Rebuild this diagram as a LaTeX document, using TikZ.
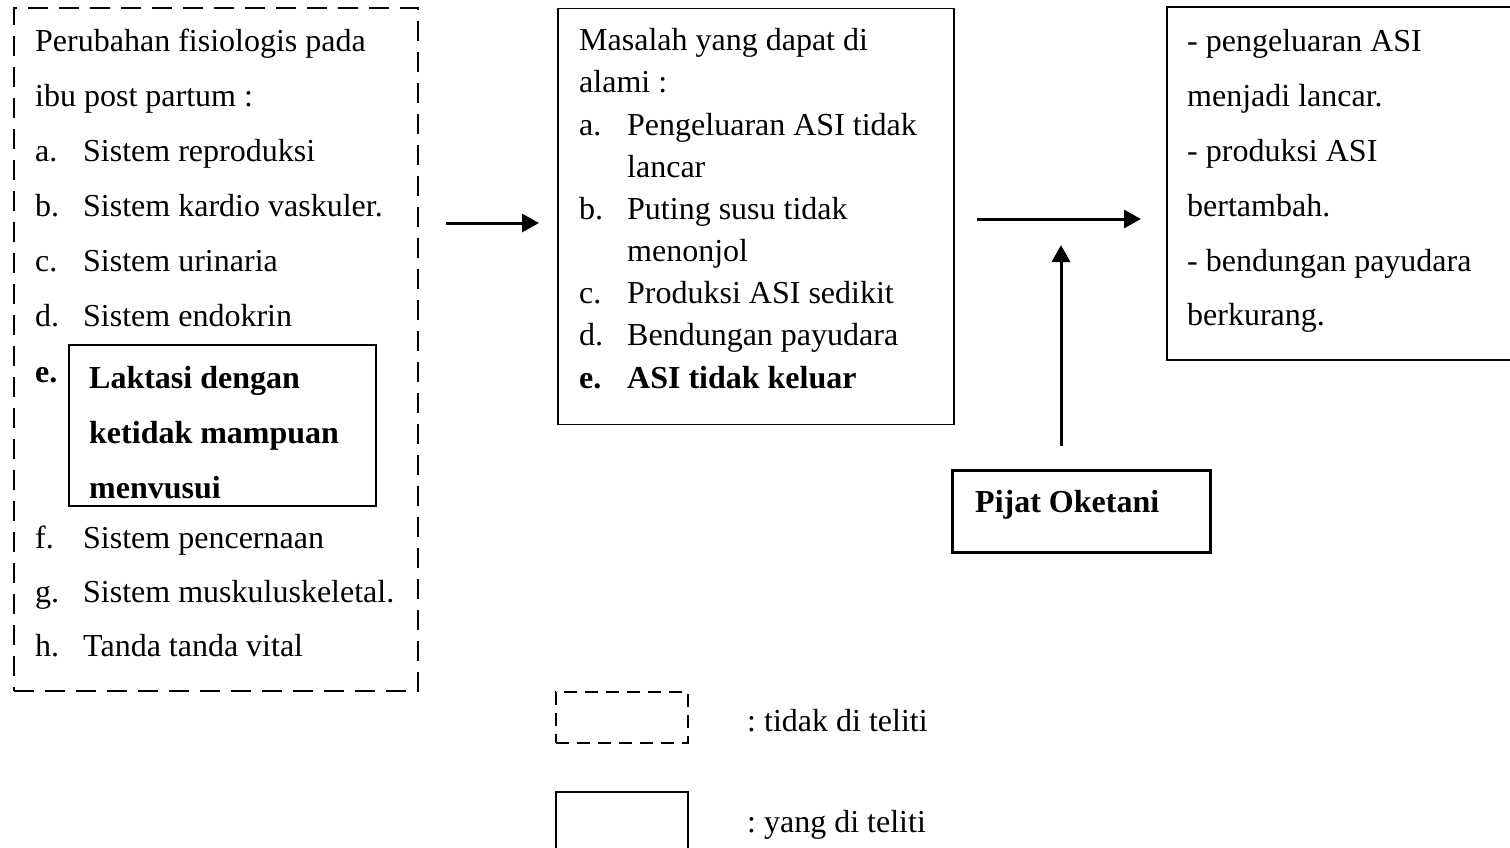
\documentclass[tikz,border=0pt]{standalone}
\usepackage{fontspec}
\setmainfont{Liberation Serif}
\usetikzlibrary{arrows.meta}
\frenchspacing
\begin{document}
\begin{tikzpicture}[x=1pt,y=-1pt,
  txt/.style={anchor=base west,inner sep=0pt,font=\fontsize{32}{38}\selectfont},
  btxt/.style={txt,font=\fontsize{32}{38}\selectfont\bfseries},
  dbox/.style={draw,line width=2.8pt,dash pattern=on 20pt off 11pt,rectangle,inner sep=0pt},
  sbox/.style={draw,line width=1.5pt,rectangle,inner sep=0pt},
  tbox/.style={draw,line width=3pt,rectangle,inner sep=0pt},
  arr/.style={line width=3pt,-{Triangle[length=17pt,width=18pt]}}]
\useasboundingbox (0,0) rectangle (1510,847);
% boxes
\node[dbox,minimum width=404pt,minimum height=683pt] (left) at (216,349.5) {};
\node[sbox,minimum width=307pt,minimum height=161pt] (lak) at (222.5,425.5) {};
\node[sbox,minimum width=396pt,minimum height=416pt] (mid) at (756,216.5) {};
\node[sbox,minimum width=346pt,minimum height=353pt] (res) at (1340,183.5) {};
\node[tbox,minimum width=258pt,minimum height=82pt] (pij) at (1081,511) {};
% left texts
\node[txt] (l1) at (35,51) {Perubahan fisiologis pada};
\node[txt] (l2) at (35,106) {ibu post partum :};
\node[txt] (la) at (35,161) {a.};
\node[txt] (lat) at (83,161) {Sistem reproduksi};
\node[txt] (lb) at (35,216) {b.};
\node[txt] (lbt) at (83,216) {Sistem kardio vaskuler.};
\node[txt] (lc) at (35,271) {c.};
\node[txt] (lct) at (83,271) {Sistem urinaria};
\node[txt] (ld) at (35,326) {d.};
\node[txt] (ldt) at (83,326) {Sistem endokrin};
\node[btxt] (le) at (35,382) {e.};
\node[btxt] (le1) at (89,388) {Laktasi dengan};
\node[btxt] (le2) at (89,443) {ketidak mampuan};
\node[btxt] (le3) at (89,498) {menvusui};
\node[txt] (lf) at (35,548) {f.};
\node[txt] (lft) at (83,548) {Sistem pencernaan};
\node[txt] (lg) at (35,602) {g.};
\node[txt] (lgt) at (83,602) {Sistem muskuluskeletal.};
\node[txt] (lh) at (35,656) {h.};
\node[txt] (lht) at (83,656) {Tanda tanda vital};
% middle texts
\node[txt] (m1) at (579,50) {Masalah yang dapat di};
\node[txt] (m2) at (579,92) {alami :};
\node[txt] (ma) at (579,135) {a.};
\node[txt] (mat) at (627,135) {Pengeluaran ASI tidak};
\node[txt] (mat2) at (627,177) {lancar};
\node[txt] (mb) at (579,219) {b.};
\node[txt] (mbt) at (627,219) {Puting susu tidak};
\node[txt] (mbt2) at (627,261) {menonjol};
\node[txt] (mc) at (579,303) {c.};
\node[txt] (mct) at (627,303) {Produksi ASI sedikit};
\node[txt] (md) at (579,345) {d.};
\node[txt] (mdt) at (627,345) {Bendungan payudara};
\node[btxt] (me) at (579,388) {e.};
\node[btxt] (met) at (627,388) {ASI tidak keluar};
% right texts
\node[txt] (r1) at (1187,51) {- pengeluaran ASI};
\node[txt] (r2) at (1187,106) {menjadi lancar.};
\node[txt] (r3) at (1187,161) {- produksi ASI};
\node[txt] (r4) at (1187,216) {bertambah.};
\node[txt] (r5) at (1187,271) {- bendungan payudara};
\node[txt] (r6) at (1187,325) {berkurang.};
% pijat
\node[btxt] (pt) at (975,512) {Pijat Oketani};
% arrows
\coordinate (a1s) at (446,223);
\coordinate (a1e) at (539,223);
\coordinate (a2s) at (977,219);
\coordinate (a2e) at (1141,219);
\coordinate (a3e) at (1061,245);
\draw[arr] (a1s) -- (a1e);
\draw[arr] (a2s) -- (a2e);
\draw[arr] (pij.north -| a3e) ++(0,-23) -- (a3e);
% legend
\node[draw,line width=1.8pt,dash pattern=on 13pt off 8pt,inner sep=0pt,minimum width=132pt,minimum height=51pt] (lgd) at (622,717.5) {};
\node[sbox,line width=1.8pt,minimum width=132pt,minimum height=80pt] (lgs) at (622,832) {};
\node[txt] (lgdt) at (747,731) {: tidak di teliti};
\node[txt] (lgst) at (747,832) {: yang di teliti};
\end{tikzpicture}
\end{document}
